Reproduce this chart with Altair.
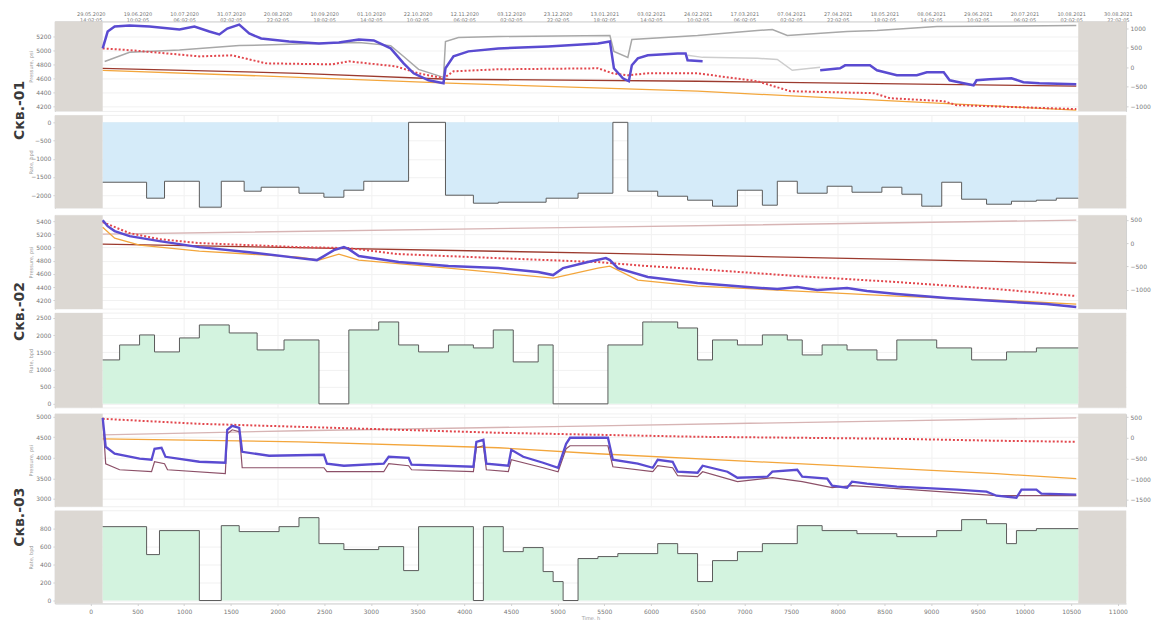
import altair as alt
import pandas as pd

# ---------------------------------------------------------------- time axis (hours)
X_MIN, X_MAX = -384, 11088
TICK_HOURS = list(range(0, 11001, 500))
GRID_HOURS = list(range(0, 11001, 1000))
NO_DATA_START = [-384, 10576]
NO_DATA_END = [128, 11088]
START_EXPR = "utc(2020,4,29,14,2,5)"

# ---------------------------------------------------------------- well 01
W1_PURPLE_H = [128, 181, 256, 416, 630, 950, 1110, 1270, 1377, 1462, 1590, 1697, 1825, 2124, 2444,
               2657, 2871, 3031, 3212, 3351, 3458, 3618, 3778, 3799, 3885, 4045, 4365, 4898, 5432,
               5560, 5603, 5699, 5763, 5795, 5859, 5966, 6286, 6371, 6392, 6553, 7812, 8025, 8079,
               8345, 8420, 8633, 8847, 8954, 9135, 9199, 9349, 9455, 9487, 9626, 9861, 9989, 10160,
               10555]
W1_PURPLE_P = [5029, 5271, 5343, 5357, 5343, 5300, 5343, 5271, 5229, 5314, 5371, 5243, 5171, 5129,
               5100, 5114, 5157, 5143, 5029, 4814, 4671, 4571, 4529, 4743, 4914, 4986, 5029, 5057,
               5100, 5129, 4743, 4600, 4557, 4786, 4886, 4929, 4957, 4957, 4857, 4843, 4714, 4743,
               4786, 4786, 4714, 4643, 4643, 4686, 4686, 4571, 4529, 4500, 4571, 4586, 4600, 4543,
               4529, 4514]
W1_PURPLE_GAP = [6553]          # gauge record missing after this hour
W1_RED_H = [128, 448, 811, 1163, 1515, 1697, 1878, 2583, 2764, 3266, 3511, 3778, 3885, 4365, 5432,
            5592, 5752, 5966, 6499, 7140, 7492, 8388, 8559, 9135, 9274, 10555]
W1_RED_P = [5029, 5000, 4957, 4914, 4929, 4871, 4814, 4800, 4843, 4771, 4671, 4600, 4700, 4729, 4743,
            4671, 4643, 4671, 4671, 4557, 4414, 4386, 4314, 4271, 4214, 4157]
W1_BROWN_H = [128, 2230, 3831, 6499, 10555]
W1_BROWN_P = [4743, 4671, 4586, 4557, 4486]
W1_ORANGE_H = [128, 2230, 3831, 6499, 8633, 10555]
W1_ORANGE_P = [4714, 4614, 4529, 4414, 4271, 4143]
W1_MODEL_H = [6392, 6553, 7140, 7353, 7513, 7812]
W1_MODEL_P = [4929, 4900, 4886, 4871, 4714, 4757]
W1_DELTA_H = [149, 416, 950, 1590, 2230, 2871, 3212, 3351, 3511, 3778, 3799, 3938, 4365, 5560, 5603,
              5752, 5795, 6499, 7140, 7300, 7460, 8100, 8420, 9060, 10555]
W1_DELTA_V = [150, 390, 450, 560, 600, 640, 560, 280, -51, -256, 667, 769, 795, 820, 410, 256, 718,
              820, 949, 974, 820, 923, 949, 1051, 1077]
W1_RATE_H = [128, 598, 790, 1163, 1398, 1643, 1825, 2230, 2497, 2711, 2924, 3404, 3799, 4098, 4365,
             4877, 5219, 5592, 5752, 6072, 6392, 6659, 6926, 7193, 7353, 7567, 7887, 8153, 8473,
             8687, 8900, 9114, 9327, 9594, 9861, 10128, 10341, 10576]
W1_RATE_Q = [-1644, -2082, -1617, -2329, -1617, -1890, -1781, -1945, -2055, -1863, -1617, 0, -2000,
             -2219, -2192, -2082, -1945, 0, -1890, -2028, -2137, -2301, -1863, -2274, -1617, -1945,
             -1754, -1918, -1781, -1973, -2301, -1644, -2110, -2247, -2165, -2137, -2082]

# ---------------------------------------------------------------- well 02
W2_PURPLE_H = [128, 181, 256, 416, 736, 1163, 1697, 2230, 2422, 2497, 2604, 2711, 2764, 2871, 3298,
               3831, 4365, 4792, 4952, 5059, 5325, 5517, 5560, 5645, 5966, 6499, 7033, 7353, 7567,
               7780, 8100, 8313, 8633, 9167, 9701, 10235, 10555]
W2_PURPLE_P = [5415, 5324, 5249, 5173, 5097, 5006, 4930, 4839, 4809, 4870, 4961, 5006, 4976, 4870,
               4779, 4718, 4688, 4627, 4582, 4688, 4779, 4839, 4809, 4688, 4552, 4461, 4400, 4370,
               4400, 4355, 4385, 4339, 4294, 4233, 4188, 4142, 4097]
W2_RED_H = [128, 416, 736, 1163, 2230, 2764, 3298, 4365, 5432, 5966, 6499, 7567, 8633, 9701, 10555]
W2_RED_P = [5385, 5218, 5127, 5067, 5006, 4991, 4900, 4839, 4779, 4718, 4673, 4567, 4476, 4370, 4264]
W2_ORANGE_H = [128, 256, 523, 1163, 2230, 2444, 2657, 2871, 3831, 4952, 5432, 5560, 5859, 6499, 7567,
               8633, 9701, 10555]
W2_ORANGE_P = [5309, 5142, 5036, 4945, 4855, 4809, 4900, 4809, 4688, 4536, 4688, 4718, 4506, 4415,
               4339, 4264, 4203, 4142]
W2_BROWN_H = [128, 5432, 10555]
W2_BROWN_P = [5052, 4915, 4764]
W2_DELTA_H = [128, 5432, 10555]
W2_DELTA_V = [193, 343, 494]
W2_RATE_H = [128, 309, 523, 683, 950, 1163, 1483, 1782, 2070, 2444, 2764, 3084, 3298, 3511, 3831,
             4098, 4311, 4525, 4792, 4952, 5539, 5912, 6286, 6499, 6659, 6926, 7193, 7460, 7620,
             7833, 8100, 8420, 8633, 9060, 9434, 9808, 10128, 10576]
W2_RATE_Q = [1279, 1715, 2006, 1512, 1919, 2297, 2064, 1570, 1860, 0, 2151, 2384, 1715, 1512, 1715,
             1628, 2151, 1221, 1715, 0, 1715, 2384, 2209, 1279, 1860, 1715, 2006, 1860, 1424, 1715,
             1570, 1279, 1860, 1628, 1279, 1512, 1628]

# ---------------------------------------------------------------- well 03
W3_PURPLE_H = [128, 160, 256, 523, 651, 683, 758, 800, 1163, 1441, 1462, 1515, 1590, 1622, 1910,
               2497, 2529, 2711, 3138, 3191, 3404, 3436, 4098, 4130, 4205, 4237, 4472, 4504, 4632,
               4845, 5005, 5091, 5133, 5539, 5592, 5859, 6019, 6072, 6232, 6286, 6499, 6553, 6819,
               6926, 7246, 7300, 7567, 7620, 7887, 7940, 8100, 8153, 8313, 8633, 9060, 9274, 9594,
               9701, 9914, 9968, 10128, 10181, 10555]
W3_PURPLE_P = [4976, 4268, 4098, 3976, 3951, 4220, 4244, 4024, 3902, 3878, 4683, 4780, 4732, 4146,
               4049, 4073, 3854, 3805, 3854, 4024, 4000, 3829, 3780, 4390, 4439, 3854, 3805, 4195,
               4024, 3878, 3756, 4341, 4488, 4488, 3951, 3854, 3756, 3951, 3902, 3659, 3634, 3805,
               3659, 3512, 3537, 3659, 3707, 3537, 3488, 3317, 3268, 3415, 3366, 3293, 3244, 3220,
               3171, 3073, 3024, 3220, 3220, 3122, 3098]
W3_BROWN_H = [128, 160, 309, 651, 683, 790, 822, 1441, 1462, 1515, 1590, 1622, 2497, 2529, 3138,
              3191, 3404, 3436, 4098, 4130, 4205, 4237, 4472, 4504, 4845, 5005, 5091, 5133, 5539,
              5592, 6019, 6072, 6232, 6286, 6499, 6553, 6926, 7300, 7620, 7940, 8153, 8633, 9701,
              10555]
W3_BROWN_P = [4976, 3854, 3707, 3659, 3902, 3854, 3707, 3610, 4585, 4683, 4634, 3756, 3756, 3659,
              3659, 3854, 3805, 3707, 3659, 4244, 4293, 3707, 3659, 3951, 3756, 3659, 4220, 4293,
              4293, 3780, 3659, 3805, 3756, 3561, 3537, 3659, 3415, 3512, 3415, 3268, 3317, 3244,
              3073, 3073]
W3_RED_H = [128, 1163, 2230, 3298, 4365, 5432, 6499, 7567, 8633, 9701, 10555]
W3_RED_P = [4951, 4829, 4756, 4683, 4610, 4561, 4512, 4488, 4463, 4415, 4390]
W3_ORANGE_H = [128, 2230, 4365, 5432, 7567, 9701, 10555]
W3_ORANGE_P = [4463, 4390, 4244, 4098, 3854, 3610, 3488]
W3_DELTA_H = [128, 2230, 5432, 8633, 10555]
W3_DELTA_V = [72, 169, 289, 410, 482]
W3_RATE_H = [128, 598, 736, 1163, 1398, 1590, 2017, 2230, 2444, 2711, 3084, 3351, 3511, 4098, 4205,
             4418, 4632, 4845, 4952, 5059, 5219, 5432, 5645, 6072, 6286, 6499, 6659, 6926, 7193,
             7567, 7833, 8206, 8633, 9060, 9327, 9594, 9808, 9914, 10128, 10576]
W3_RATE_Q = [822, 511, 778, 0, 833, 767, 822, 922, 633, 567, 600, 333, 822, 0, 822, 544, 589, 322,
             211, 0, 467, 489, 522, 633, 522, 211, 444, 544, 633, 833, 778, 744, 711, 778, 900, 855,
             633, 778, 800]

# ---------------------------------------------------------------- styling
PURPLE, RED, ORANGE, BROWN = "#5a4bd1", "#e2474d", "#f3a63c", "#9c3a2e"
MAUVE, GREY, LIGHT_GREY, PINK = "#8c5068", "#a8a8a8", "#cdcdcd", "#d7b4b4"
BAND = "#dcd8d3"
PLOT_W = 1073
LBL = 6
EXTENT = 20


def series(hours, values, gaps=()):
    df = pd.DataFrame({"h": hours, "v": values})
    df["seg"] = 0
    for g in gaps:
        df.loc[df["h"] > g, "seg"] += 1
    return df


def step_series(edges, values):
    return pd.DataFrame({"h": edges, "v": list(values) + [values[-1]]})


def plain_x_axis():
    return alt.Axis(values=GRID_HOURS, grid=True, labels=False, ticks=False, domain=False,
                    title=None)


def x_enc(axis):
    return alt.X("h:Q", scale=alt.Scale(domain=[X_MIN, X_MAX], nice=False, zero=False),
                 axis=axis if axis is not None else plain_x_axis())


def band_layer(axis):
    df = pd.DataFrame({"h": NO_DATA_START, "h2": NO_DATA_END})
    return alt.Chart(df).mark_rect(color=BAND).encode(x=x_enc(axis), x2="h2:Q")


def y_enc(domain, ticks, title, orient):
    return alt.Y("v:Q", scale=alt.Scale(domain=domain, nice=False, zero=False),
                 axis=alt.Axis(values=ticks, title=title, orient=orient, grid=orient == "left",
                               format="d", labelFontSize=LBL, titleFontSize=5, titlePadding=1,
                               labelPadding=2, tickSize=2, minExtent=EXTENT, maxExtent=EXTENT))


def line_layer(df, yenc, axis, color, width, dash=None):
    kw = dict(color=color, strokeWidth=width, clip=True)
    if dash:
        kw["strokeDash"] = dash
    return alt.Chart(df).mark_line(**kw).encode(x=x_enc(axis), y=yenc, detail="seg:N")


def top_axis():
    ts = f"{START_EXPR} + datum.value * 3600000"
    return alt.Axis(orient="top", values=TICK_HOURS, grid=False, tickSize=2, labelFontSize=5,
                    labelPadding=3, title=None, labelLineHeight=6,
                    labelExpr=f"[utcFormat({ts}, '%d.%m.%Y'), utcFormat({ts}, '%H:%M:%S')]")


def bottom_axis():
    return alt.Axis(orient="bottom", values=TICK_HOURS, grid=False, tickSize=2, labelFontSize=LBL,
                    labelPadding=3, title="Time, h", titleFontSize=5, titlePadding=1,
                    format="d")


def pressure_panel(lines, deltas, ldom, lticks, rdom, rticks, height, axis=None):
    yl = y_enc(ldom, lticks, "Pressure, psi", "left")
    yr = y_enc(rdom, rticks, None, "right")
    left = alt.layer(*[line_layer(df, yl, axis, *st) for df, st in lines])
    right = alt.layer(*[line_layer(df, yr, axis, *st) for df, st in deltas])
    return alt.layer(band_layer(axis), right, left).resolve_scale(y="independent").properties(
        width=PLOT_W, height=height)


def rate_panel(df, dom, ticks, fill, height, axis=None):
    y = y_enc(dom, ticks, "Rate, bpd", "left")
    area = alt.Chart(df).mark_area(interpolate="step-after", color=fill, opacity=1).encode(
        x=x_enc(axis), y=y)
    edge = alt.Chart(df).mark_line(interpolate="step-after", color="#5a5a5a", strokeWidth=1).encode(
        x=x_enc(axis), y=y)
    return alt.layer(band_layer(axis), area, edge).properties(width=PLOT_W, height=height)


def well(name, p, r):
    return alt.vconcat(p, r, spacing=2).properties(
        title=alt.Title(name, orient="left", anchor="middle", fontSize=14, fontWeight="bold",
                        font="DejaVu Sans", color="#3a3a3a", offset=2))


w1 = well(
    "Скв.-01",
    pressure_panel(
        [(series(W1_MODEL_H, W1_MODEL_P), (LIGHT_GREY, 1.5)),
         (series(W1_BROWN_H, W1_BROWN_P), (BROWN, 1.3)),
         (series(W1_ORANGE_H, W1_ORANGE_P), (ORANGE, 1.3)),
         (series(W1_RED_H, W1_RED_P), (RED, 2, [2, 2])),
         (series(W1_PURPLE_H, W1_PURPLE_P, W1_PURPLE_GAP), (PURPLE, 2.5))],
        [(series(W1_DELTA_H, W1_DELTA_V), (GREY, 1.5))],
        [4125, 5415], [4200, 4400, 4600, 4800, 5000, 5200],
        [-1130, 1180], [-1000, -500, 0, 500, 1000], 90, top_axis()),
    rate_panel(step_series(W1_RATE_H, W1_RATE_Q), [-2356, 192], [-2000, -1500, -1000, -500, 0],
               "#d5ebf9", 93),
)

w2 = well(
    "Скв.-02",
    pressure_panel(
        [(series(W2_BROWN_H, W2_BROWN_P), (BROWN, 1.3)),
         (series(W2_ORANGE_H, W2_ORANGE_P), (ORANGE, 1.3)),
         (series(W2_RED_H, W2_RED_P), (RED, 2, [2, 2])),
         (series(W2_PURPLE_H, W2_PURPLE_P), (PURPLE, 2.5))],
        [(series(W2_DELTA_H, W2_DELTA_V), (PINK, 1.3))],
        [4067, 5491], [4200, 4400, 4600, 4800, 5000, 5200, 5400],
        [-1416, 601], [-1000, -500, 0, 500], 94),
    rate_panel(step_series(W2_RATE_H, W2_RATE_Q), [-116, 2645], [0, 500, 1000, 1500, 2000, 2500],
               "#d3f3df", 95),
)

w3 = well(
    "Скв.-03",
    pressure_panel(
        [(series(W3_ORANGE_H, W3_ORANGE_P), (ORANGE, 1.3)),
         (series(W3_RED_H, W3_RED_P), (RED, 2, [2, 2])),
         (series(W3_BROWN_H, W3_BROWN_P), (MAUVE, 1.2)),
         (series(W3_PURPLE_H, W3_PURPLE_P), (PURPLE, 2.3))],
        [(series(W3_DELTA_H, W3_DELTA_V), (PINK, 1.3))],
        [2805, 5073], [3000, 3500, 4000, 4500, 5000],
        [-1663, 578], [-1500, -1000, -500, 0, 500], 93),
    rate_panel(step_series(W3_RATE_H, W3_RATE_Q), [-33, 1000], [0, 200, 400, 600, 800],
               "#d3f3df", 93, bottom_axis()),
)

chart = alt.vconcat(w1, w2, w3, spacing=4).properties(
    padding={"left": 12, "right": 2, "top": 10, "bottom": 2}
).configure_view(stroke="#e6e6e6", strokeWidth=0.6).configure_axis(
    labelColor="#777", titleColor="#999", domainColor="#d0d0d0", tickColor="#d0d0d0",
    gridColor="#f1f1f1", labelFont="DejaVu Sans", titleFont="DejaVu Sans", titleFontWeight="normal"
).configure_concat(spacing=2)

chart.save("out.html", embed_options={"renderer": "svg", "actions": False})
